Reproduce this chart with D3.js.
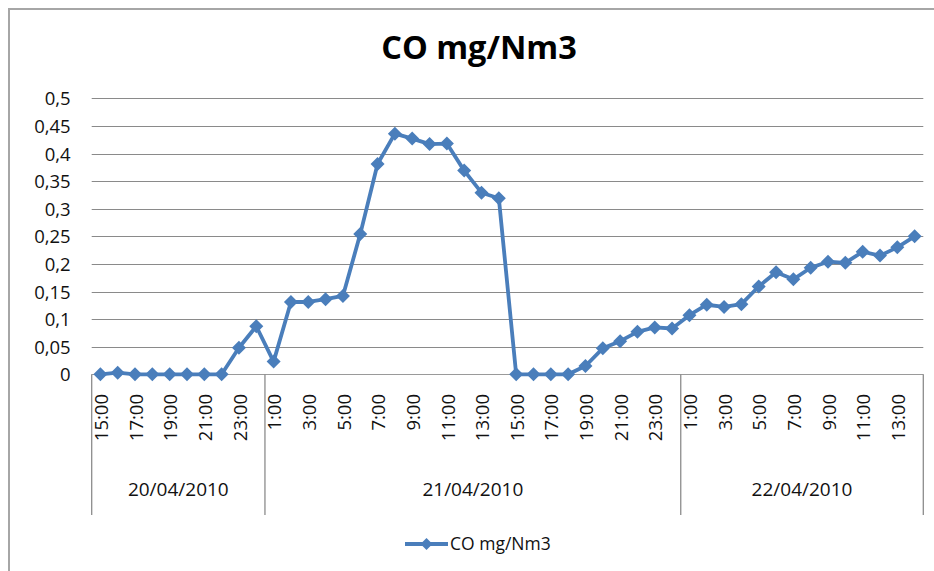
<!DOCTYPE html>
<html>
<head>
<meta charset="utf-8">
<script src="https://cdn.jsdelivr.net/npm/d3@7"></script>
<style>
	html, body { margin: 0; padding: 0; background: #fff; }
	svg { display: block; font-family: "Open Sans", sans-serif; }
</style>
</head>
<body>
<svg id="chart" width="934" height="571"></svg>
<script>
var title = "CO mg/Nm3";
var seriesName = "CO mg/Nm3";

var hours = [
	"15:00", "16:00", "17:00", "18:00", "19:00", "20:00", "21:00", "22:00", "23:00", "0:00",
	"1:00", "2:00", "3:00", "4:00", "5:00", "6:00", "7:00", "8:00", "9:00", "10:00", "11:00", "12:00",
	"13:00", "14:00", "15:00", "16:00", "17:00", "18:00", "19:00", "20:00", "21:00", "22:00", "23:00", "0:00",
	"1:00", "2:00", "3:00", "4:00", "5:00", "6:00", "7:00", "8:00", "9:00", "10:00", "11:00", "12:00",
	"13:00", "14:00"
];

var values = [
	0, 0.003, 0, 0, 0, 0, 0, 0, 0.048, 0.087,
	0.023, 0.131, 0.131, 0.136, 0.142, 0.254, 0.381, 0.436, 0.427, 0.417, 0.418, 0.369,
	0.329, 0.319, 0, 0, 0, 0, 0.015, 0.047, 0.060, 0.077, 0.085, 0.083,
	0.107, 0.126, 0.122, 0.127, 0.159, 0.185, 0.172, 0.193, 0.204, 0.202, 0.222, 0.215,
	0.230, 0.250
];

var dayLabels = [ "20/04/2010", "21/04/2010", "22/04/2010" ];
var dayCounts = [ 10, 24, 14 ];

var yTicks = [ 0, 0.05, 0.1, 0.15, 0.2, 0.25, 0.3, 0.35, 0.4, 0.45, 0.5 ];

var lineColor = "#4a7ebb";
var gridColor = "#8a8a8a";
var textColor = "#111";

var svg = d3.select("#chart");

var plot = { left: 91.7, right: 923.3, top: 98.3, bottom: 374.3 };

var x = d3.scaleBand()
		.domain(d3.range(values.length))
		.range([ plot.left, plot.right ])
		.padding(0);
var y = d3.scaleLinear()
		.domain([ 0, 0.5 ])
		.range([ plot.bottom, plot.top ]);

var cx = function(i) {
	return x(i) + x.bandwidth() / 2;
};

var fmt = d3.formatLocale({ decimal: ",", thousands: ".", grouping: [ 3 ], currency: [ "", "" ] }).format("~g");

// outer chart frame (only left and top edges show)
svg.append("path")
		.attr("d", "M 9 571 V 9 H 934")
		.attr("fill", "none")
		.attr("stroke", "#a6a6a6")
		.attr("stroke-width", 2);

svg.append("text")
		.attr("x", 479)
		.attr("y", 58.5)
		.attr("text-anchor", "middle")
		.attr("font-size", 32.5)
		.attr("font-weight", "bold")
		.attr("fill", "#000")
		.text(title);

// horizontal gridlines
svg.append("g").selectAll("line")
		.data(yTicks)
		.enter().append("line")
		.attr("x1", plot.left)
		.attr("x2", plot.right)
		.attr("y1", function(d) { return Math.round(y(d)) + 0.5; })
		.attr("y2", function(d) { return Math.round(y(d)) + 0.5; })
		.attr("stroke", function(d) { return d === 0 ? "#9a9a9a" : gridColor; })
		.attr("stroke-width", 1);

// y labels
var yAxis = d3.axisLeft(y).tickValues(yTicks).tickFormat(fmt).tickSize(0).tickPadding(21);
var yg = svg.append("g")
		.attr("transform", "translate(" + plot.left + ",0)")
		.call(yAxis);
yg.select(".domain").remove();
yg.selectAll("text")
		.attr("font-family", "Open Sans, sans-serif")
		.attr("font-size", 18.5)
		.attr("fill", textColor)
		.attr("dy", "0.36em");

// category group dividers
var bounds = [ 0 ];
dayCounts.forEach(function(c, i) {
	bounds.push(bounds[i] + c);
});
svg.append("g").selectAll("line")
		.data(bounds)
		.enter().append("line")
		.attr("x1", function(d) { return d < values.length ? x(d) : plot.right; })
		.attr("x2", function(d) { return d < values.length ? x(d) : plot.right; })
		.attr("y1", plot.bottom)
		.attr("y2", 515)
		.attr("stroke", "#8c8c8c")
		.attr("stroke-width", 1.3);

// hour labels, every second one
svg.append("g").selectAll("text")
		.data(hours.map(function(h, i) { return { h: h, i: i }; }).filter(function(d) { return d.i % 2 === 0; }))
		.enter().append("text")
		.attr("transform", function(d) {
			return "translate(" + (cx(d.i) + 1) + ",394) rotate(-90)";
		})
		.attr("text-anchor", "end")
		.attr("dy", "0.36em")
		.attr("font-size", 18.5)
		.attr("fill", textColor)
		.text(function(d) { return d.h; });

// date labels
svg.append("g").selectAll("text")
		.data(dayLabels)
		.enter().append("text")
		.attr("x", function(d, i) {
			var a = x(bounds[i]);
			var b = bounds[i + 1] < values.length ? x(bounds[i + 1]) : plot.right;
			return (a + b) / 2;
		})
		.attr("y", 496)
		.attr("text-anchor", "middle")
		.attr("font-size", 19)
		.attr("fill", textColor)
		.text(function(d) { return d; });

// series
var line = d3.line()
		.x(function(d, i) { return cx(i); })
		.y(function(d) { return y(d); });

svg.append("path")
		.datum(values)
		.attr("d", line)
		.attr("fill", "none")
		.attr("stroke", lineColor)
		.attr("stroke-width", 3.8)
		.attr("stroke-linejoin", "round");

var diamond = function(px, py, r) {
	return "M " + px + " " + (py - r) + " L " + (px + r) + " " + py + " L " + px + " " + (py + r) + " L " + (px - r) + " " + py + " Z";
};

svg.append("g").selectAll("path")
		.data(values)
		.enter().append("path")
		.attr("d", function(d, i) { return diamond(cx(i), y(d), 7); })
		.attr("fill", lineColor);

// legend
var legend = svg.append("g");
legend.append("line")
		.attr("x1", 405)
		.attr("x2", 448)
		.attr("y1", 544)
		.attr("y2", 544)
		.attr("stroke", lineColor)
		.attr("stroke-width", 3.8);
legend.append("path")
		.attr("d", diamond(426.5, 544, 6))
		.attr("fill", lineColor);
legend.append("text")
		.attr("x", 450)
		.attr("y", 550)
		.attr("font-size", 17.5)
		.attr("fill", textColor)
		.text(seriesName);
</script>
</body>
</html>
